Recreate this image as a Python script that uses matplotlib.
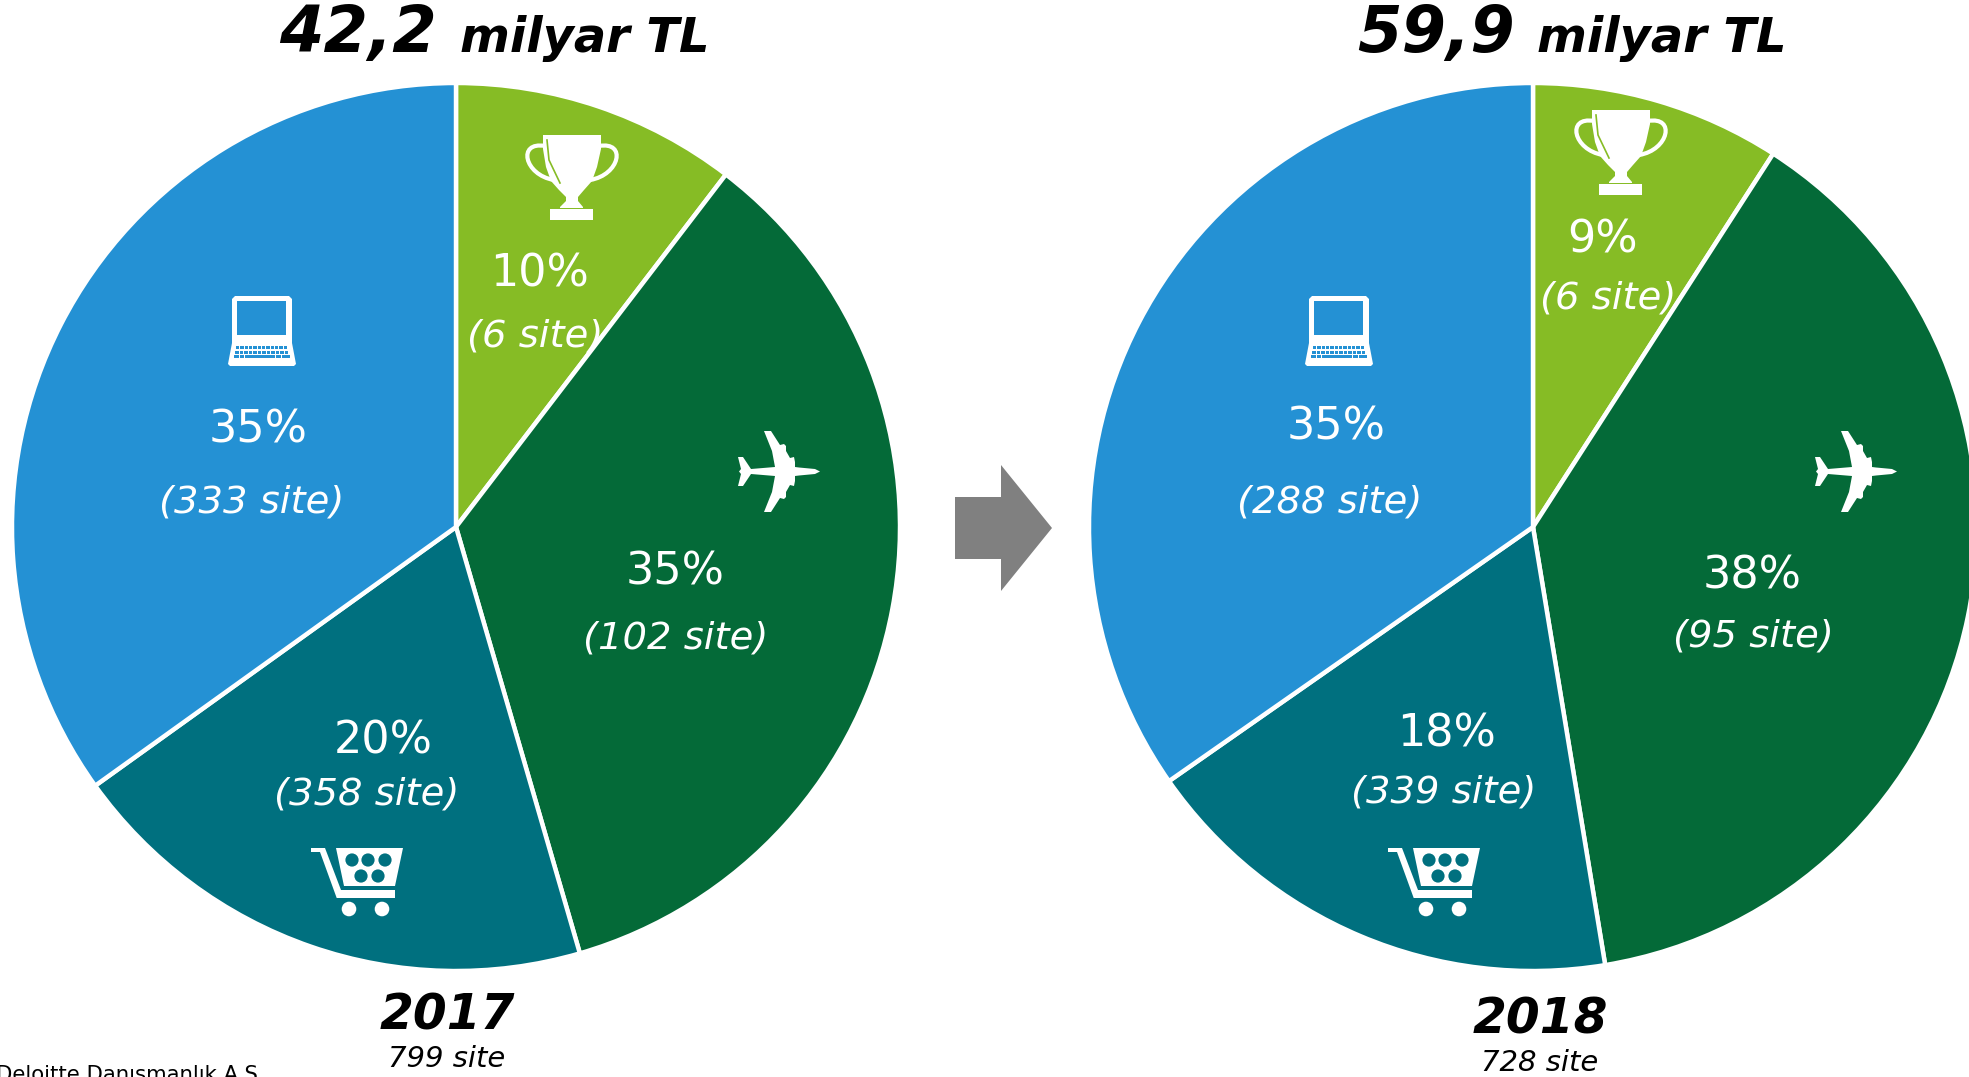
import matplotlib
matplotlib.use("Agg")
import matplotlib.pyplot as plt
from matplotlib.patches import Polygon, Circle, Rectangle, PathPatch
from matplotlib.path import Path

W, H = 1969, 1077
categories = ["Online", "Kategori", "Seyahat", "Pazaryeri"]
colors = ["#86BC25", "#046A38", "#00707F", "#2491D4"]
values_2017 = [10.4, 35.1, 19.6, 34.9]
values_2018 = [9.1, 38.3, 17.9, 34.7]
pct_2017 = ["10%", "35%", "20%", "35%"]
pct_2018 = ["9%", "38%", "18%", "35%"]
sites_2017 = ["(6 site)", "(102 site)", "(358 site)", "(333 site)"]
sites_2018 = ["(6 site)", "(95 site)", "(339 site)", "(288 site)"]
totals = ["42,2", "59,9"]
years = ["2017", "2018"]
year_sites = ["799 site", "728 site"]

fig = plt.figure(figsize=(W / 100, H / 100), dpi=100, facecolor="white")
ax = fig.add_axes([0, 0, 1, 1])
plt.rcParams["font.family"] = "DejaVu Sans"


def Y(py):
    return H - py


for vals, cx in ((values_2017, 456), (values_2018, 1533)):
    ax.pie(vals, colors=colors, center=(cx, Y(527)), radius=444, startangle=90,
           counterclock=False, wedgeprops=dict(edgecolor="white", linewidth=3.2))
ax.set_xlim(0, W)
ax.set_ylim(0, H)
ax.set_aspect("equal")
ax.axis("off")


def T(x, y, s, size, **kw):
    ax.text(x, Y(y), s, fontsize=size, ha="center", va="center", **kw)


pos_2017 = [((540, 274), (535, 336)), ((675, 572), (676, 638)),
            ((383, 741), (367, 795)), ((258, 430), (252, 503))]
pos_2018 = [((1603, 240), (1608, 299)), ((1752, 576), (1753, 637)),
            ((1447, 734), (1444, 793)), ((1336, 427), (1330, 502))]
for pcts, sites, pos in ((pct_2017, sites_2017, pos_2017), (pct_2018, sites_2018, pos_2018)):
    for p, s, (a, b) in zip(pcts, sites, pos):
        T(a[0], a[1], p, 32, color="white")
        T(b[0], b[1], s, 27.7, color="white", style="italic")

for total, x1, x2 in zip(totals, (358, 1436), (585, 1662)):
    T(x1, 34, total, 46, color="black", style="italic", weight="bold")
    T(x2, 38, "milyar TL", 34.5, color="black", style="italic", weight="bold")
for yr, ys, x, y1, y2 in zip(years, year_sites, (447, 1540), (1016, 1020), (1059, 1063)):
    T(x, y1, yr, 35, color="black", style="italic", weight="bold")
    T(x, y2, ys, 21, color="black", style="italic")

ax.text(-4, Y(1075), "Deloitte Danışmanlık A.Ş.", fontsize=15.3, ha="left", va="center", color="black")

ax.add_patch(Polygon([(955, Y(497)), (1001, Y(497)), (1001, Y(465)), (1052, Y(528)),
                      (1001, Y(591)), (1001, Y(559)), (955, Y(559))], closed=True,
                     facecolor="#808080", edgecolor="none"))


def P(ox, oy, pts):
    return [(ox + x, Y(oy + y)) for x, y in pts]


def fill(ox, oy, pts, c="white", z=5):
    ax.add_patch(Polygon(P(ox, oy, pts), closed=True, fc=c, ec="none", zorder=z))


def trophy(ox, oy, bg):
    fill(ox, oy, [(17, 0), (75, 0), (75, 14), (71, 32), (66, 46), (58, 55), (52, 62), (52, 66),
                  (57, 72), (57, 73), (34, 73), (34, 72), (40, 66), (40, 62), (33, 55), (25, 46),
                  (20, 32), (17, 14)])
    fill(ox, oy, [(24, 74), (67, 74), (67, 85), (24, 85)])
    codes = [Path.MOVETO, Path.CURVE4, Path.CURVE4, Path.CURVE4]
    for pts in ([(19, 11), (-9, 6), (-2, 40), (28, 45)], [(73, 11), (101, 6), (94, 40), (64, 45)]):
        ax.add_patch(PathPatch(Path(P(ox, oy, pts), codes), fc="none", ec="white", lw=3.0, zorder=5))
    ax.plot(*zip(*P(ox, oy, [(21, 5), (23, 25), (34, 48)])), color=bg, lw=1.2, zorder=6)


def laptop(ox, oy, c):
    fill(ox, oy, [(7, 0), (61, 0), (64, 3), (64, 47), (4, 47), (4, 3)])
    ax.add_patch(Rectangle((ox + 9, Y(oy + 39)), 49, 34, fc=c, ec="none", zorder=6))
    fill(ox, oy, [(4, 47), (64, 47), (68, 68), (66, 70), (2, 70), (0, 68)])
    for r, (a, b) in enumerate(((8, 60), (7, 61))):
        for i in range(12):
            x = a + (b - a) * i / 12
            ax.add_patch(Rectangle((ox + x, Y(oy + 53.2 + r * 4.5)), (b - a) / 12 - 1, 3.2, fc=c, ec="none", zorder=6))
    for a, b in ((6, 10.5), (11.5, 16), (17, 47), (48, 52.5), (53.5, 62)):
        ax.add_patch(Rectangle((ox + a, Y(oy + 62.2)), b - a, 3.2, fc=c, ec="none", zorder=6))


def plane(ox, oy):
    upper = [(83, 40.5), (78, 38), (62, 36.5), (58, 36), (58, 31), (57, 26), (53, 27), (49, 20),
             (49, 15), (47, 13), (43, 14), (34, 0), (27, 0), (35, 20), (38, 36), (14, 38),
             (6, 26), (1, 26), (4, 38), (2, 40.5)]
    lower = [(x, 81 - y) for x, y in reversed(upper[1:-1])]
    fill(ox, oy, upper + lower)


def cart(ox, oy, c):
    fill(ox, oy, [(0, 0), (14, 0), (30, 42), (84, 42), (84, 50), (25.7, 50), (9, 4), (0, 4)])
    fill(ox, oy, [(25, 0), (92, 0), (84, 38), (33, 38)])
    for x, y in ((41, 12), (57, 12), (74, 12), (50, 28), (67, 28)):
        ax.add_patch(Circle((ox + x, Y(oy + y)), 6.6, fc=c, ec="none", zorder=6))
    for x in (38, 71):
        ax.add_patch(Circle((ox + x, Y(oy + 61)), 7.3, fc="white", ec="none", zorder=5))


trophy(526, 135, colors[0])
trophy(1575, 110, colors[0])
laptop(228, 296, colors[3])
laptop(1305, 296, colors[3])
plane(737, 431)
plane(1814, 431)
cart(311, 848, colors[2])
cart(1388, 848, colors[2])

fig.savefig("out.png", dpi=100, facecolor="white")
